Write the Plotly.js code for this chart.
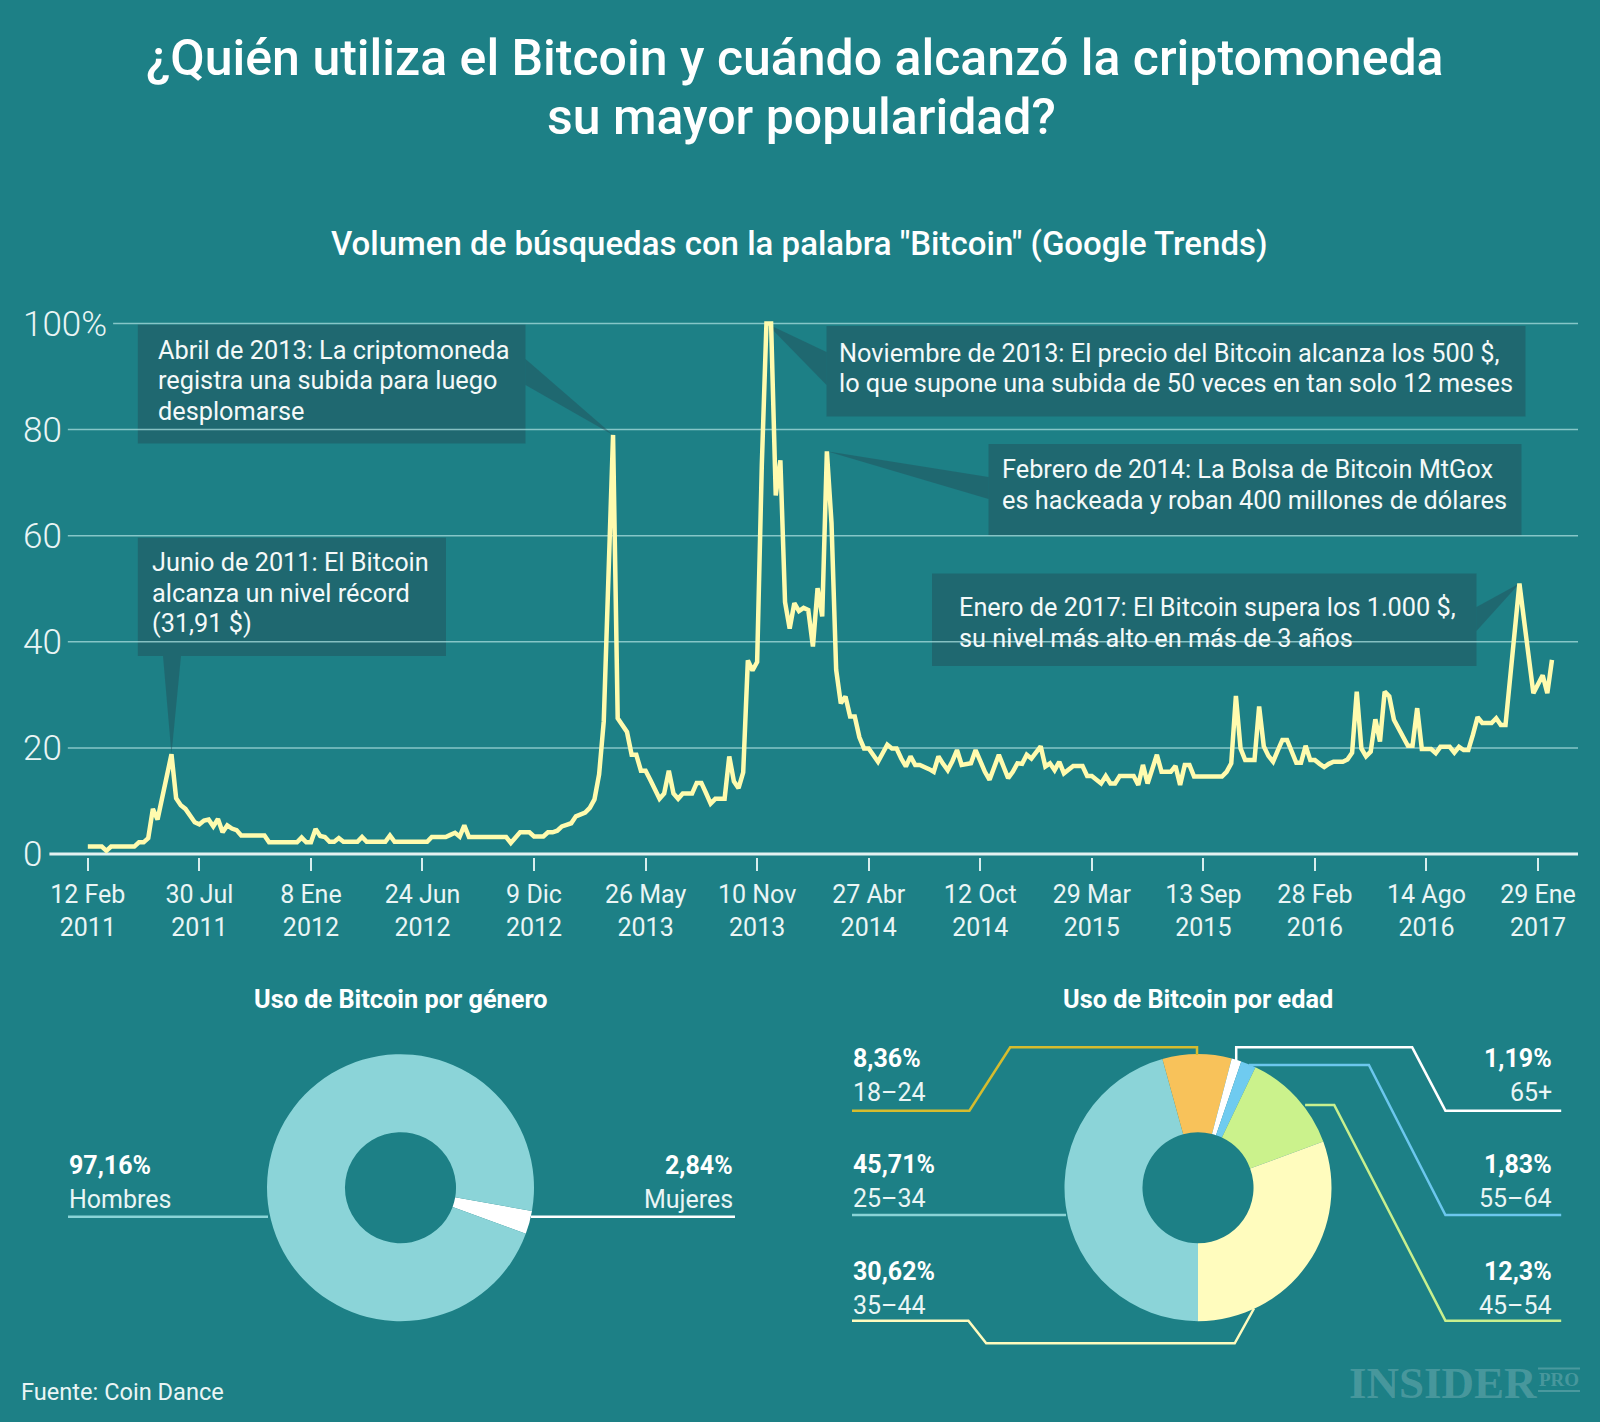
<!DOCTYPE html>
<html>
<head>
<meta charset="utf-8">
<script src="https://cdn.plot.ly/plotly-3.0.1.min.js"></script>
<style>
  html, body { margin: 0; padding: 0; background: #1D8086; }
  #chart { width: 1600px; height: 1422px; }
</style>
</head>
<body>
<div id="chart"></div>
<script>
// ---------------- DATA ----------------
// Weekly Google Trends index for "Bitcoin" (first week = 12 Feb 2011)
const searchVolume = [
  1.4,1.4,1.4,1.4,0.6,1.4,1.4,1.4,1.4,1.4,
  1.4,2.2,2.2,3,8.5,6.5,10.6,14.7,18.8,10.5,
  9.2,8.5,7.4,6,5.6,6.3,6.5,5.2,6.6,4.1,
  5.4,4.8,4.5,3.5,3.5,3.5,3.5,3.5,3.5,2.2,
  2.2,2.2,2.2,2.2,2.2,2.2,3.1,2.2,2.2,4.7,
  3.4,3.2,2.3,2.3,3.0,2.3,2.3,2.3,2.3,3.2,
  2.3,2.3,2.3,2.3,2.3,3.5,2.3,2.3,2.3,2.3,
  2.3,2.3,2.3,2.3,3.2,3.2,3.2,3.2,3.6,4.0,
  3.3,5.4,3.2,3.2,3.2,3.2,3.2,3.2,3.2,3.2,
  3.2,2.1,3.2,4.1,4.1,4.1,3.3,3.3,3.3,4.1,
  4.1,4.4,5.2,5.5,5.8,7.1,7.4,7.8,8.7,10.3,
  15,25,52,79,25.6,24.3,23,18.7,18.7,15.7,
  15.7,14,12.2,10.4,11.4,15.7,11.4,10.4,11.4,11.4,
  11.4,13.4,13.4,11.5,9.5,10.4,10.4,10.4,18.4,13.7,
  12.4,15.4,36.5,34.6,36.2,73.2,100,100,67.6,74.2,
  47.5,42.5,47.3,45.8,46.4,46,39.1,50.1,44.8,75.9,
  62.4,34.7,28.4,29.7,25.9,25.9,22,19.9,19.9,18.5,
  17.4,19,20.6,19.9,19.9,18,16.5,18.4,16.8,16.8,
  16.5,16,15.5,18.4,17,15.8,17.5,19.6,16.8,17,
  17.1,19.6,17.5,15.5,14,16.5,18.7,16.5,14.3,15.5,
  17.1,17,18.7,18,19,20.3,16.5,17.1,15.8,17.4,
  15.2,15.8,16.6,16.6,16.6,14.7,14.7,14,13.3,14.7,
  13.3,13.3,14.7,14.7,14.7,14.7,13,16.8,13.3,16,
  18.7,15.5,15.5,15.5,16.6,13,16.8,16.8,14.6,14.6,
  14.6,14.6,14.6,14.6,14.6,15.5,17.1,29.8,19.9,17.7,
  17.7,17.7,27.8,20.3,18.5,17.4,19.5,21.5,21.5,19.5,
  17.2,17.2,20.4,17.7,17.7,17,16.4,17,17.4,17.4,
  17.4,17.8,19.1,30.6,19.9,18.4,19.3,25.4,21.2,30.6,
  29.7,25.3,23.6,22,20.4,20.4,27.5,19.8,19.8,19.8,
  19,20.2,20.2,20.2,19.1,20.2,19.6,19.6,22.5,25.8,
  24.7,24.7,24.7,25.6,24.3,24.3,32.8,42,51,44,
  37,30.3,32,33.7,30.3,36.6
];
const weekIndex = searchVolume.map((_, i) => i);

const tickWeeks = [0,24,48,72,96,120,144,168,192,216,240,264,288,312];
const tickLabels = [
  '12 Feb<br>2011','30 Jul<br>2011','8 Ene<br>2012','24 Jun<br>2012','9 Dic<br>2012',
  '26 May<br>2013','10 Nov<br>2013','27 Abr<br>2014','12 Oct<br>2014','29 Mar<br>2015',
  '13 Sep<br>2015','28 Feb<br>2016','14 Ago<br>2016','29 Ene<br>2017'
];
const yTickVals = [0,20,40,60,80,100];
const yTickText = ['0','20','40','60','80','100%'];

const genderLabels = ['Mujeres','Hombres'];
const genderValues = [2.84, 97.16];
const genderText = ['2,84%','97,16%'];

const ageLabels = ['25–34','18–24','65+','55–64','45–54','35–44'];
const ageValues = [45.71, 8.36, 1.19, 1.83, 12.3, 30.62];
const ageText = ['45,71%','8,36%','1,19%','1,83%','12,3%','30,62%'];

const titleLines = ['¿Quién utiliza el Bitcoin y cuándo alcanzó la criptomoneda', 'su mayor popularidad?'];

// ---------------- LAYOUT GEOMETRY ----------------
const W = 1600, H = 1422;
const FONT = 'Roboto, "Noto Sans", sans-serif';
const BG = '#1D8086';
const LINE_COL = '#FFFBAE';
const GRID_COL = 'rgba(170,222,222,0.75)';
const BOX_COL = 'rgba(35,72,84,0.42)';
const L = 20, R = 1578, T = 312.9, B = 857.2;
const XR = [-14.59, 320.6], YR = [-0.6, 102];
const pxToX = px => XR[0] + (px - L) / (R - L) * (XR[1] - XR[0]);
const pyToY = py => YR[0] + (B - py) / (B - T) * (YR[1] - YR[0]);
const fx = px => px / W;
const fy = py => 1 - py / H;
const ppath = pts => pts.map((p, k) => (k ? 'L' : 'M') + fx(p[0]).toFixed(5) + ',' + fy(p[1]).toFixed(5)).join(' ');

function peakIndex(lo, hi) {
  let best = lo;
  for (let i = lo; i < Math.min(hi, searchVolume.length); i++) if (searchVolume[i] > searchVolume[best]) best = i;
  return best;
}

const shapes = [];
const annotations = [];
const txt = (x, y, text, opts) => annotations.push(Object.assign({xref:'paper', yref:'paper', x:fx(x), y:fy(y),
  xanchor:'center', yanchor:'middle', showarrow:false, text:text}, opts));

// callout boxes
const CALLOUT_LINE = 30.6;
const callouts = [
  {text:'Junio de 2011: El Bitcoin<br>alcanza un nivel récord<br>(31,91 $)', box:[137.8,537.8,446,656], tx:149.5, ty:593, base:[[163,656],[181,656]], win:[10,30]},
  {text:'Abril de 2013: La criptomoneda<br>registra una subida para luego<br>desplomarse', box:[137.8,324.5,525.5,443.5], tx:155.5, ty:381, base:[[525.5,359],[525.5,385]], win:[100,130]},
  {text:'Noviembre de 2013: El precio del Bitcoin alcanza los 500 $,<br>lo que supone una subida de 50 veces en tan solo 12 meses', box:[826.5,326,1525.5,416.5], tx:836.5, ty:368.5, base:[[826.5,352],[826.5,385]], win:[140,150]},
  {text:'Febrero de 2014: La Bolsa de Bitcoin MtGox<br>es hackeada y roban 400 millones de dólares', box:[988.5,444,1521.5,535.5], tx:999.5, ty:485, base:[[988.5,477],[988.5,499]], win:[155,165]},
  {text:'Enero de 2017: El Bitcoin supera los 1.000 $,<br>su nivel más alto en más de 3 años', box:[932,573.5,1476.5,666], tx:957, ty:623, base:[[1476.5,607],[1476.5,631]], win:[300,316]}
];
callouts.forEach(c => {
  shapes.push({type:'rect', xref:'paper', yref:'paper', x0:fx(c.box[0]), x1:fx(c.box[2]), y0:fy(c.box[1]), y1:fy(c.box[3]),
    fillcolor:BOX_COL, line:{width:0}, layer:'below'});
  const pi = peakIndex(c.win[0], c.win[1]);
  const tipX = weekIndex[pi], tipY = searchVolume[pi];
  const p = 'M' + pxToX(c.base[0][0]) + ',' + pyToY(c.base[0][1]) +
            ' L' + tipX + ',' + tipY +
            ' L' + pxToX(c.base[1][0]) + ',' + pyToY(c.base[1][1]) + ' Z';
  shapes.push({type:'path', xref:'x', yref:'y', path:p, fillcolor:BOX_COL, line:{width:0}, layer:'below'});
  const lines = c.text.split('<br>');
  lines.forEach((ln, k) => {
    txt(c.tx, c.ty + (k - (lines.length - 1) / 2) * CALLOUT_LINE, ln,
      {xanchor:'left', align:'left', font:{family:FONT, size:25.3, color:'#F4F9F9'}});
  });
});

// gridlines starting right after each y label
const mctx = document.createElement('canvas').getContext('2d');
mctx.font = '300 35px Roboto';
yTickVals.forEach((v, k) => {
  const start = 22 + mctx.measureText(yTickText[k]).width + (v === 0 ? 8 : 7);
  shapes.push({type:'line', xref:'paper', yref:'y', x0:fx(start), x1:fx(1578), y0:v, y1:v,
    line:{color: v === 0 ? '#E4F2F1' : GRID_COL, width: v === 0 ? 3 : 1.5}, layer:'below'});
});

// ---- Titles ----
txt(795, 58.2, titleLines[0], {font:{family:FONT, size:50, color:'#FFFFFF', weight:500}});
txt(801, 117.3, titleLines[1], {font:{family:FONT, size:50, color:'#FFFFFF', weight:500}});
txt(799, 243, 'Volumen de búsquedas con la palabra "Bitcoin" (Google Trends)', {font:{family:FONT, size:33, color:'#FFFFFF', weight:500}});
txt(401, 999, 'Uso de Bitcoin por género', {font:{family:FONT, size:25.3, color:'#FFFFFF', weight:700}});
txt(1198, 999, 'Uso de Bitcoin por edad', {font:{family:FONT, size:25.3, color:'#FFFFFF', weight:700}});
txt(18.5, 1392, 'Fuente: Coin Dance', {xanchor:'left', font:{family:FONT, size:23.6, color:'#EAF5F5'}});

// watermark
txt(1443, 1383, 'INSIDER', {font:{family:'"Liberation Serif", serif', size:45, color:'rgba(255,255,255,0.2)', weight:700}});
txt(1559, 1379.5, 'PRO', {font:{family:'"Liberation Serif", serif', size:19, color:'rgba(255,255,255,0.2)', weight:700}});
shapes.push({type:'line', xref:'paper', yref:'paper', x0:fx(1538), x1:fx(1580), y0:fy(1368.5), y1:fy(1368.5), line:{color:'rgba(255,255,255,0.2)', width:2}});
shapes.push({type:'line', xref:'paper', yref:'paper', x0:fx(1538), x1:fx(1580), y0:fy(1391), y1:fy(1391), line:{color:'rgba(255,255,255,0.2)', width:2}});

// ---- Gender labels & leader lines ----
const bold = {family:FONT, size:25, color:'#FFFFFF', weight:700};
const reg = {family:FONT, size:25, color:'#EAF5F5'};
txt(67, 1165.7, genderText[1], {xanchor:'left', font:bold});
txt(67, 1199, genderLabels[1], {xanchor:'left', font:reg});
txt(735, 1165.7, genderText[0], {xanchor:'right', font:bold});
txt(735, 1199, genderLabels[0], {xanchor:'right', font:reg});
shapes.push({type:'path', xref:'paper', yref:'paper', path:ppath([[68,1216.7],[268,1216.7]]), line:{color:'#8AD3D6', width:2.5}});
shapes.push({type:'path', xref:'paper', yref:'paper', path:ppath([[531,1216.7],[735,1216.7]]), line:{color:'#FFFFFF', width:2.5}});

// ---- Age labels & leader lines ----
const ageLabelPos = {
  '18–24':{x:851, y:1058, side:'left'},  '25–34':{x:851, y:1164, side:'left'},  '35–44':{x:851, y:1271.7, side:'left'},
  '65+':{x:1554, y:1058, side:'right'},  '55–64':{x:1554, y:1164, side:'right'},  '45–54':{x:1554, y:1271.7, side:'right'}
};
ageLabels.forEach((lab, k) => {
  const p = ageLabelPos[lab];
  txt(p.x, p.y, ageText[k], {xanchor:p.side, font:bold});
  txt(p.x, p.y + 34, lab, {xanchor:p.side, font:reg});
});
const ageLines = [
  {pts:[[852,1110.7],[969.4,1110.7],[1010.2,1047.3],[1197,1047.3],[1197,1055]], col:'#D6BC2E'},
  {pts:[[852,1215],[1066,1215]], col:'#8AD3D6'},
  {pts:[[852,1320.7],[968.4,1320.7],[986.2,1343.3],[1234.7,1343.3],[1254,1308.5]], col:'#FFFBBE'},
  {pts:[[1236.2,1060],[1236.2,1047.3],[1412.2,1047.3],[1445.4,1110.7],[1561.2,1110.7]], col:'#FFFFFF'},
  {pts:[[1249,1065],[1368.9,1065],[1445.4,1215],[1561.2,1215]], col:'#6CC7EE'},
  {pts:[[1305.1,1105],[1334.2,1105],[1445.4,1320.7],[1561.2,1320.7]], col:'#C8F08E'}
];
ageLines.forEach(l => shapes.push({type:'path', xref:'paper', yref:'paper', path:ppath(l.pts), line:{color:l.col, width:2.5}}));

// ---------------- TRACES ----------------
const traces = [
  {type:'scatter', mode:'lines', x:weekIndex, y:searchVolume, line:{color:LINE_COL, width:4.5, shape:'linear'},
   hoverinfo:'skip', showlegend:false},
  {type:'pie', labels:genderLabels, values:genderValues, hole:0.416, sort:false, direction:'clockwise', rotation:100,
   marker:{colors:['#FFFFFF','#8BD4D8'], line:{width:0}}, textinfo:'none', hoverinfo:'skip', showlegend:false,
   domain:{x:[fx(267), fx(534)], y:[fy(1321.2), fy(1054.2)]}},
  {type:'pie', labels:ageLabels, values:ageValues, hole:0.416, sort:false, direction:'clockwise', rotation:180,
   marker:{colors:['#8BD4D8','#F8C25A','#FFFFFF','#6FCBF0','#CBF28C','#FFFCBE'], line:{width:0}}, textinfo:'none',
   hoverinfo:'skip', showlegend:false,
   domain:{x:[fx(1064.5), fx(1331.5)], y:[fy(1321.2), fy(1054.2)]}}
];

const layout = {
  width: W, height: H,
  paper_bgcolor: BG, plot_bgcolor: 'rgba(0,0,0,0)',
  margin: {l:0, r:0, t:0, b:0},
  showlegend: false,
  xaxis: {
    domain: [fx(L), fx(R)], range: XR, type: 'linear',
    showgrid: false, zeroline: false, showline: false,
    tickmode: 'array', tickvals: tickWeeks, ticktext: tickLabels,
    ticks: 'outside', ticklen: 13, tickwidth: 2, tickcolor: '#D8EEEE',
    ticklabelstandoff: 2,
    tickfont: {family: FONT, size: 25, color: '#EAF5F5'}, fixedrange: true
  },
  yaxis: {
    domain: [fy(B), fy(T)], range: YR,
    showgrid: false, zeroline: false, showline: false,
    tickmode: 'array', tickvals: yTickVals, ticktext: yTickText,
    ticks: '', ticklabelposition: 'inside', ticklabeloverflow: 'allow',
    tickfont: {family: FONT, size: 35, color: '#EAF5F5', weight: 300}, fixedrange: true
  },
  shapes: shapes,
  annotations: annotations
};

Plotly.newPlot('chart', traces, layout, {staticPlot: true, displayModeBar: false});
</script>
</body>
</html>
